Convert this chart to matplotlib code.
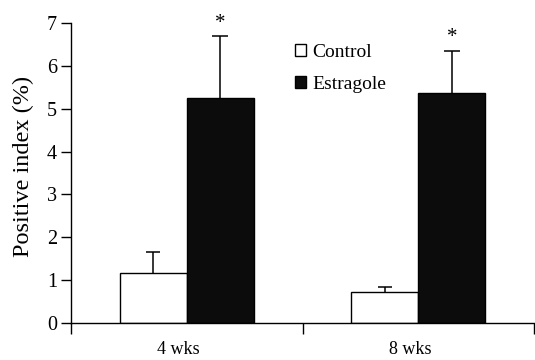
import matplotlib
matplotlib.use("Agg")
import matplotlib.pyplot as plt
import matplotlib.transforms as mtransforms
from matplotlib.patches import Patch
import numpy as np

categories = ["4 wks", "8 wks"]
series_names = ["Control", "Estragole"]
control_vals = [1.17, 0.73]
control_err = [0.49, 0.12]
estragole_vals = [5.26, 5.36]
estragole_err = [1.44, 0.99]
y_ticks = [0, 1, 2, 3, 4, 5, 6, 7]

plt.rcParams['font.family'] = ['Liberation Serif', 'DejaVu Serif']

fig = plt.figure(figsize=(5.35, 3.6), dpi=100)
ax = fig.add_axes([71/535, 37/360, 463/535, 300/360])

x = np.arange(len(categories))
w = 0.29
dark = '#0c0c0c'
ax.bar(x - w/2, control_vals, w, color='white', edgecolor='black', linewidth=1.0, zorder=2)
ax.bar(x + w/2, estragole_vals, w, color=dark, edgecolor='black', linewidth=1.0, zorder=2)

for xs, vals, errs, cs in [(x - w/2, control_vals, control_err, 5),
                           (x + w/2, estragole_vals, estragole_err, 6)]:
    eb = ax.errorbar(xs, vals, yerr=[np.zeros(len(vals)), errs], fmt='none',
                     ecolor='black', elinewidth=1.1, capthick=1.1, capsize=cs, zorder=1)
    caps = eb.lines[1]
    if len(caps) == 2:
        caps[0].set_visible(False)

for xi, v, e in zip(x + w/2, estragole_vals, estragole_err):
    ax.text(xi, v + e + 0.3, '*', ha='center', va='center', fontsize=15)

ax.set_xlim(-0.5, 1.5)
ax.set_ylim(0, 7)
ax.set_yticks(y_ticks)
ax.set_xticks(x)
ax.set_xticklabels(categories, fontsize=13)
ax.set_xticks([-0.5, 0.5, 1.5], minor=True)
ax.tick_params(axis='x', which='major', length=0, pad=13)
ax.tick_params(axis='x', which='minor', length=8, width=1.0, direction='out')
ax.tick_params(axis='y', length=7, width=1.0, direction='out', labelsize=14.5, pad=3)
shift = mtransforms.ScaledTranslation(-8/100, 0, fig.dpi_scale_trans)
for lbl in ax.get_xticklabels():
    lbl.set_transform(lbl.get_transform() + shift)

ax.set_ylabel('Positive index (%)', fontsize=17.5)
ax.yaxis.set_label_coords(-0.08, 0.523)

for s in ['top', 'right']:
    ax.spines[s].set_visible(False)
for s in ['left', 'bottom']:
    ax.spines[s].set_linewidth(1.0)

handles = [Patch(facecolor='white', edgecolor='black', linewidth=1.0),
           Patch(facecolor=dark, edgecolor='black', linewidth=1.0)]
ax.legend(handles, series_names, loc='upper left',
          bbox_to_anchor=(295/535, 1 - 44/360), bbox_transform=fig.transFigure,
          frameon=False, fontsize=14, handlelength=0.55, handleheight=0.55,
          handletextpad=0.35, labelspacing=0.75, borderpad=0, borderaxespad=0)

fig.savefig('out.png', dpi=100)
